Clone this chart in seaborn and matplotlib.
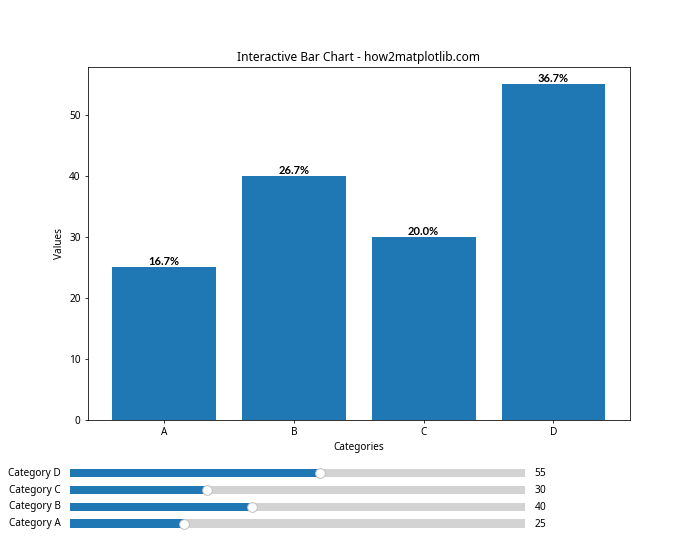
import matplotlib
matplotlib.use("Agg")
import matplotlib.pyplot as plt
from matplotlib.widgets import Slider
import seaborn as sns
import pandas as pd

categories = ["A", "B", "C", "D"]
values = [25, 40, 30, 55]
slider_labels = ["Category A", "Category B", "Category C", "Category D"]
slider_min = 0
slider_max = 100

plt.rcParams["font.family"] = ["Noto Sans", "DejaVu Sans"]
plt.rcParams["font.size"] = 10.3
plt.rcParams["axes.titlesize"] = 12.3

df = pd.DataFrame({"Categories": categories, "Values": values})

fig = plt.figure(figsize=(10, 8))
fig.subplots_adjust(left=0.125, right=0.9, top=0.88, bottom=0.25)
ax = fig.add_subplot(111)
sns.barplot(data=df, x="Categories", y="Values", color="#1f77b4",
            saturation=1, width=0.8, ax=ax)
ax.set_autoscalex_on(True)
ax.margins(x=0.05)
ax.autoscale_view()

total = sum(values)
for patch, v in zip(ax.patches, values):
    ax.text(patch.get_x() + patch.get_width() / 2, patch.get_height(),
            f"{v / total * 100:.1f}%", ha="center", va="bottom",
            fontweight="bold", family=["Lato", "DejaVu Sans"], fontsize=11.5)

ax.set_title("Interactive Bar Chart - how2matplotlib.com")
ax.set_xlabel("Categories")
ax.set_ylabel("Values")

sliders = []
for i, (lab, v) in enumerate(zip(slider_labels, values)):
    sax = fig.add_axes([0.1, 0.05 + i * 0.03, 0.65, 0.03])
    s = Slider(sax, lab, slider_min, slider_max, valinit=v, initcolor="none")
    sliders.append(s)

fig.savefig("out.png", dpi=70)
